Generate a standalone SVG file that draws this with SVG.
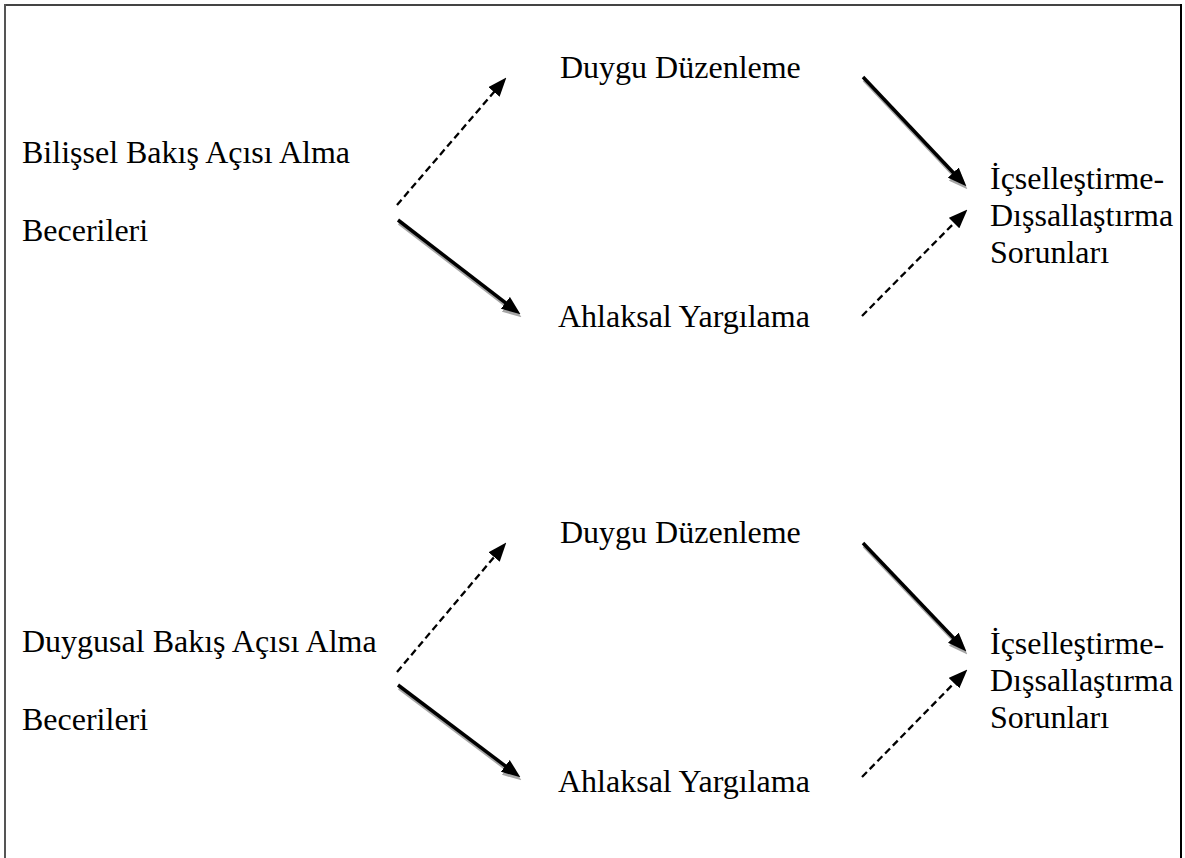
<svg xmlns="http://www.w3.org/2000/svg" width="1185" height="858" viewBox="0 0 1185 858">
<defs>
<style>
text{font-family:"Liberation Serif","Times New Roman",serif;font-size:32px;fill:#000}
.solid{stroke:#000;stroke-width:3.5;fill:none}
.shadow{stroke:#a6a6a6;stroke-width:3.5;fill:none}
.dash{stroke:#000;stroke-width:2.3;stroke-dasharray:7 4;fill:none}
</style>
<marker id="ah" viewBox="0 0 18 14" markerWidth="19" markerHeight="15" refX="8" refY="7" orient="auto" markerUnits="userSpaceOnUse"><path d="M0,0 L18,7 L0,14 z" fill="#000"/></marker>
<marker id="ahs" viewBox="0 0 18 14" markerWidth="19" markerHeight="15" refX="8" refY="7" orient="auto" markerUnits="userSpaceOnUse"><path d="M0,0 L18,7 L0,14 z" fill="#a6a6a6"/></marker>
</defs>
<rect width="1185" height="858" fill="#fff"/>
<g id="border">
<line x1="5" y1="5" x2="1181" y2="5" stroke="#444" stroke-width="2"/>
<line x1="5" y1="4" x2="5" y2="858" stroke="#555" stroke-width="2"/>
<line x1="1181" y1="4" x2="1181" y2="858" stroke="#000" stroke-width="2"/>
</g>
<g id="connectors">
<g transform="translate(1,3)">
<line class="shadow" x1="398" y1="220" x2="512.1" y2="307.9" marker-end="url(#ahs)"/>
<line class="shadow" x1="863" y1="77" x2="959.1" y2="178.7" marker-end="url(#ahs)"/>
<line class="shadow" x1="398" y1="685" x2="512" y2="771" marker-end="url(#ahs)"/>
<line class="shadow" x1="863" y1="543" x2="959.1" y2="643.8" marker-end="url(#ahs)"/>
</g>
<line class="dash" x1="397" y1="205" x2="499.5" y2="85.6" marker-end="url(#ah)"/>
<line class="solid" x1="398" y1="220" x2="512.1" y2="307.9" marker-end="url(#ah)"/>
<line class="solid" x1="863" y1="77" x2="959.1" y2="178.7" marker-end="url(#ah)"/>
<line class="dash" x1="862" y1="316" x2="960" y2="217.1" marker-end="url(#ah)"/>
<line class="dash" x1="397" y1="672" x2="499.5" y2="550.6" marker-end="url(#ah)"/>
<line class="solid" x1="398" y1="685" x2="512" y2="771" marker-end="url(#ah)"/>
<line class="solid" x1="863" y1="543" x2="959.1" y2="643.8" marker-end="url(#ah)"/>
<line class="dash" x1="862" y1="777" x2="960" y2="677.1" marker-end="url(#ah)"/>
</g>
<g id="bilissel"><text x="22" y="163">Bilişsel Bakış Açısı Alma</text><text x="22" y="241">Becerileri</text></g>
<g id="duygu1"><text x="560" y="78">Duygu Düzenleme</text></g>
<g id="ahlak1"><text x="558" y="327">Ahlaksal Yargılama</text></g>
<g id="icsel1"><text x="990" y="189">İçselleştirme-</text><text x="990" y="226">Dışsallaştırma</text><text x="990" y="263">Sorunları</text></g>
<g id="duygusal"><text x="22" y="652">Duygusal Bakış Açısı Alma</text><text x="22" y="730">Becerileri</text></g>
<g id="duygu2"><text x="560" y="543">Duygu Düzenleme</text></g>
<g id="ahlak2"><text x="558" y="792">Ahlaksal Yargılama</text></g>
<g id="icsel2"><text x="990" y="654">İçselleştirme-</text><text x="990" y="691">Dışsallaştırma</text><text x="990" y="728">Sorunları</text></g>
</svg>
